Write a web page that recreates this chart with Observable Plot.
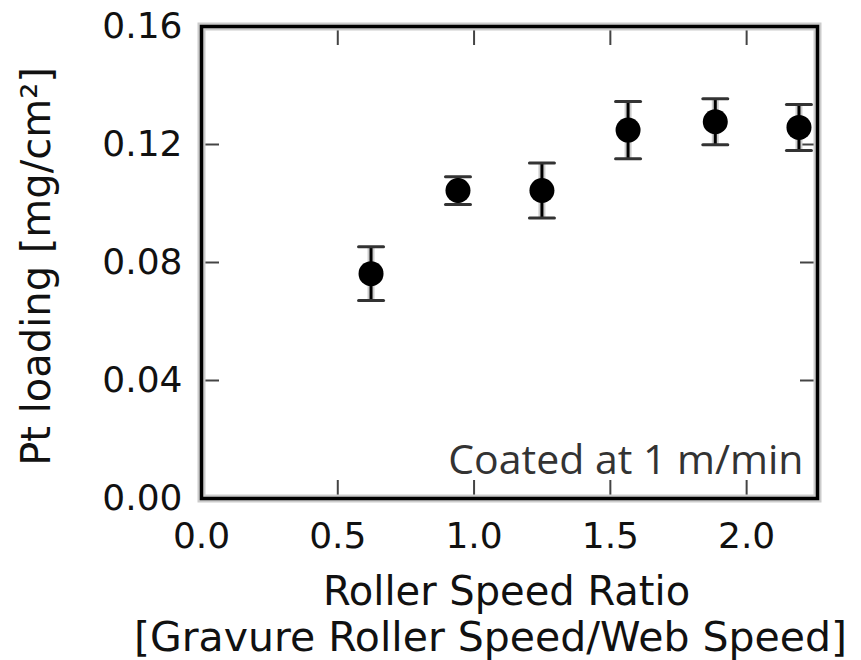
<!DOCTYPE html>
<html><head><meta charset="utf-8">
<script src="https://cdn.jsdelivr.net/npm/d3@7"></script>
<script src="https://cdn.jsdelivr.net/npm/@observablehq/plot@0.6"></script>
<style>body{margin:0;background:#fff}</style>
</head><body><div id="chart"></div>
<script>
const ratio = [0.622, 0.941, 1.249, 1.565, 1.885, 2.192];
const loading = [0.0762, 0.1044, 0.1044, 0.1249, 0.1277, 0.1258];
const loadingErr = [0.0091, 0.0047, 0.0093, 0.0097, 0.0078, 0.0078];
const xTicks = [0, 0.5, 1.0, 1.5, 2.0];
const yTicks = [0, 0.04, 0.08, 0.12, 0.16];
const yLabel = "Pt loading [mg/cm²]";
const xLabelLine1 = "Roller Speed Ratio";
const xLabelLine2 = "[Gravure Roller Speed/Web Speed]";
const note = "Coated at 1 m/min";

const data = ratio.map((x, i) => ({x, y: loading[i], lo: loading[i] - loadingErr[i], hi: loading[i] + loadingErr[i]}));
const capShape = {draw(context, l) { context.moveTo(0, 0); context.lineTo(0, -l); }};
const blank = () => "";

const chart = Plot.plot({
  width: 861, height: 660,
  marginLeft: 201, marginRight: 44, marginTop: 26, marginBottom: 162,
  x: {domain: [0, 2.26]},
  y: {domain: [0, 0.16]},
  style: {fontFamily: "DejaVu Sans", fontSize: "36px", background: "white", color: "#111"},
  marks: [
    // inward ticks on all four sides
    Plot.axisX(xTicks, {anchor: "bottom", tickSize: 18, dy: -18, tickFormat: blank, label: null, stroke: "#444", strokeWidth: 2}),
    Plot.axisX(xTicks, {anchor: "top", tickSize: 18, dy: 18, tickFormat: blank, label: null, stroke: "#444", strokeWidth: 2}),
    Plot.axisY(yTicks, {anchor: "left", tickSize: 18, dx: 18, tickFormat: blank, label: null, stroke: "#444", strokeWidth: 2}),
    Plot.axisY(yTicks, {anchor: "right", tickSize: 18, dx: -18, tickFormat: blank, label: null, stroke: "#444", strokeWidth: 2}),
    // tick labels
    Plot.axisX(xTicks, {anchor: "bottom", tickSize: 0, tickPadding: 24, tickFormat: d3.format(".1f"), label: null}),
    Plot.axisY(yTicks, {anchor: "left", tickSize: 0, tickPadding: 19, tickFormat: d3.format(".2f"), label: null}),
    // frame
    Plot.frame({stroke: "#cccccc", strokeWidth: 8}),
    Plot.frame({stroke: "black", strokeWidth: 3.5}),
    // error bars
    Plot.ruleX(data, {x: "x", y1: "lo", y2: "hi", stroke: "#cccccc", strokeWidth: 7}),
    Plot.ruleX(data, {x: "x", y1: "lo", y2: "hi", stroke: "black", strokeWidth: 3}),
    Plot.vector(data, {x: "x", y: "hi", rotate: 90, length: 25, anchor: "middle", shape: capShape, stroke: "#333", strokeWidth: 3}),
    Plot.vector(data, {x: "x", y: "lo", rotate: 90, length: 25, anchor: "middle", shape: capShape, stroke: "#333", strokeWidth: 3}),
    // points
    Plot.dot(data, {x: "x", y: "y", r: 12.5, fill: "black", stroke: null}),
    // annotation
    Plot.text([note], {frameAnchor: "bottom-right", dx: -14, dy: -25, textAnchor: "end", lineAnchor: "bottom", fontFamily: "Open Sans", fontSize: 41, fill: "#333"}),
    // axis labels
    Plot.text([yLabel], {frameAnchor: "left", rotate: -90, dx: -164, dy: 4, fontSize: 40, lineAnchor: "middle", textAnchor: "middle", fill: "#111"}),
    Plot.text([xLabelLine1], {frameAnchor: "bottom", dx: -3, dy: 106, lineAnchor: "bottom", fontSize: 40, fill: "#111"}),
    Plot.text([xLabelLine2], {frameAnchor: "bottom", dx: -19, dy: 152, lineAnchor: "bottom", fontSize: 41, fill: "#111"})
  ]
});
document.getElementById("chart").appendChild(chart);
</script>
</body></html>
